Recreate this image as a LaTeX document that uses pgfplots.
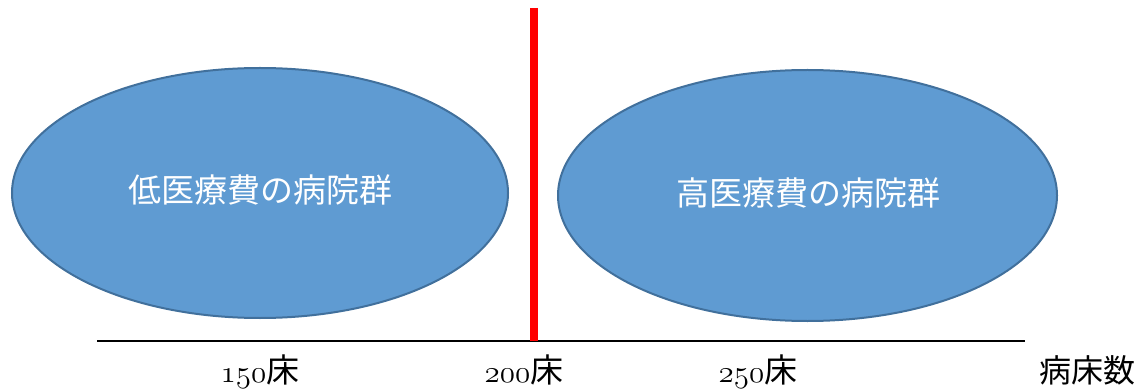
\documentclass[border=0pt]{standalone}
\usepackage{graphicx}
\usepackage{pgfplots}
\pgfplotsset{compat=1.18}
\usepackage{fontspec}
\newfontfamily\cjk{Noto Sans CJK JP}
\newcommand\osn[1]{\scalebox{1.25}{\fontsize{24.88}{28}\usefont{OML}{cmm}{m}{it}#1}}
\definecolor{ellfill}{HTML}{5F9BD2}
\definecolor{elldraw}{HTML}{41709C}
\begin{document}
\begin{tikzpicture}
\begin{axis}[
  scale only axis, width=1148pt, height=390pt,
  xmin=0, xmax=1148, ymin=0, ymax=390, y dir=reverse,
  hide axis, clip=false,
]
\path[use as bounding box] (rel axis cs:0,0) rectangle (rel axis cs:1,1);
% ellipses (annotation shapes)
\draw[fill=ellfill, draw=elldraw, line width=2pt] (axis cs:260,193) ellipse [x radius=248, y radius=125];
\draw[fill=ellfill, draw=elldraw, line width=2pt] (axis cs:807.5,195.5) ellipse [x radius=249.5, y radius=125.5];
\node[text=white, font=\cjk\fontsize{33}{38}\selectfont] at (axis cs:260,190) {低医療費の病院群};
\node[text=white, font=\cjk\fontsize{33}{38}\selectfont] at (axis cs:808,193) {高医療費の病院群};
% horizontal axis line
\addplot[black, line width=1.6pt, no marks] coordinates {(97,341) (1025,341)};
% red threshold line
\addplot[red, line width=8pt, no marks] coordinates {(534,8) (534,341)};
% labels
\node[font=\fontsize{33}{36}\selectfont, anchor=base, inner sep=0pt] at (axis cs:260,382) {\osn{150}{\cjk 床}};
\node[font=\fontsize{33}{36}\selectfont, anchor=base, inner sep=0pt] at (axis cs:524,382) {\osn{200}{\cjk 床}};
\node[font=\fontsize{33}{36}\selectfont, anchor=base, inner sep=0pt] at (axis cs:758,382) {\osn{250}{\cjk 床}};
\node[font=\cjk\fontsize{32}{36}\selectfont, anchor=base, inner sep=0pt] at (axis cs:1087,382) {病床数};
\end{axis}
\end{tikzpicture}
\end{document}
